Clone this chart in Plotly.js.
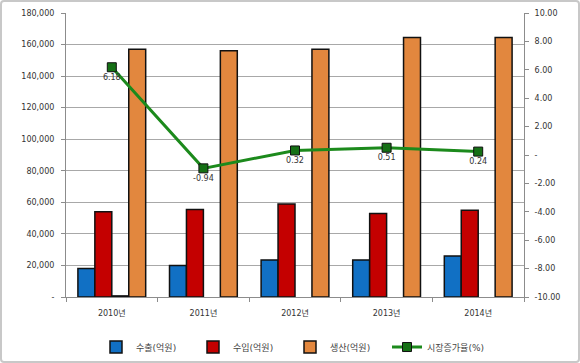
<!DOCTYPE html>
<html>
<head>
<meta charset="utf-8">
<script src="https://cdn.plot.ly/plotly-3.0.1.min.js"></script>
<style>
html,body{margin:0;padding:0;background:#fff;}
#frame{position:absolute;left:0;top:0;width:576px;height:359px;border:2px solid #c8c8c8;border-radius:4px;}
#chart{position:absolute;left:0;top:0;width:580px;height:363px;}
</style>
</head>
<body>
<div id="frame"></div>
<div id="chart"></div>
<script>
const categories = ["2010년", "2011년", "2012년", "2013년", "2014년"];
const exportVals = [18000, 20000, 23500, 23500, 26000];
const importVals = [54000, 55500, 59000, 53000, 55000];
const otherVals = [700, null, null, null, null];
const productionVals = [157000, 156000, 157000, 164500, 164500];
const growthVals = [6.18, -0.94, 0.32, 0.51, 0.24];
const leftTicks = [0, 20000, 40000, 60000, 80000, 100000, 120000, 140000, 160000, 180000];
const leftTickText = ["-", "20,000", "40,000", "60,000", "80,000", "100,000", "120,000", "140,000", "160,000", "180,000"];
const rightTicks = [-10, -8, -6, -4, -2, 0, 2, 4, 6, 8, 10];
const rightTickText = ["-10.00", "-8.00", "-6.00", "-4.00", "-2.00", "-", "2.00", "4.00", "6.00", "8.00", "10.00"];

const xs = categories.map((c, i) => i);
const font = {family: "DejaVu Sans, Noto Sans CJK KR, sans-serif", size: 8, color: "#333"};
const legFont = {family: "DejaVu Sans, Noto Sans CJK KR, sans-serif", size: 9, color: "#444"};
const barLine = {color: "#111", width: 1.5};

const traces = [
  {type: "bar", name: "수출(억원)", x: xs, y: exportVals, marker: {color: "#1170C4", line: barLine}},
  {type: "bar", name: "수입(억원)", x: xs, y: importVals, marker: {color: "#C40000", line: barLine}},
  {type: "bar", name: "기타", x: xs, y: otherVals, showlegend: false, marker: {color: "#fff", line: barLine}},
  {type: "bar", name: "생산(억원)", x: xs, y: productionVals, marker: {color: "#E2873E", line: barLine}},
  {type: "scatter", mode: "lines+markers+text", name: "시장증가율(%)", x: xs, y: growthVals, yaxis: "y2",
   text: growthVals.map(v => v.toFixed(2)), textposition: "bottom center", textfont: font,
   line: {color: "#1C8A1C", width: 3},
   marker: {symbol: "square", size: 9, color: "#157015", line: {color: "#111", width: 1}}}
];

const layout = {
  width: 580, height: 363,
  margin: {l: 66, r: 56, t: 13, b: 66},
  paper_bgcolor: "rgba(0,0,0,0)", plot_bgcolor: "#fff",
  font: font,
  barmode: "group", bargap: 0.26, bargroupgap: 0,
  showlegend: true,
  legend: {orientation: "h", x: 0.5, xref: "container", xanchor: "center", y: 0.044, yref: "container", yanchor: "middle",
           font: legFont, traceorder: "normal", entrywidth: 52, entrywidthmode: "pixels"},
  xaxis: {range: [-0.5, 4.5], tickvals: xs, ticktext: categories, ticks: "", showgrid: false,
          showline: true, linecolor: "#8c8c8c", linewidth: 1, zeroline: false, ticklabelstandoff: 8,
          minor: {tick0: -0.5, dtick: 1, ticks: "outside", ticklen: 4, tickcolor: "#8c8c8c", showgrid: false},
          tickfont: font},
  yaxis: {range: [0, 180000], tickvals: leftTicks, ticktext: leftTickText, showgrid: true, gridcolor: "#a8a8a8", gridwidth: 1,
          showline: true, linecolor: "#8c8c8c", ticks: "outside", ticklen: 4, tickcolor: "#8c8c8c", zeroline: false,
          ticklabelstandoff: 5, tickfont: font},
  yaxis2: {range: [-10, 10], tickvals: rightTicks, ticktext: rightTickText, overlaying: "y", side: "right", showgrid: false,
           showline: true, linecolor: "#8c8c8c", ticks: "outside", ticklen: 4, tickcolor: "#8c8c8c", zeroline: false,
           ticklabelstandoff: 4, tickfont: font}
};

Plotly.newPlot("chart", traces, layout, {displayModeBar: false, staticPlot: true});
</script>
</body>
</html>
